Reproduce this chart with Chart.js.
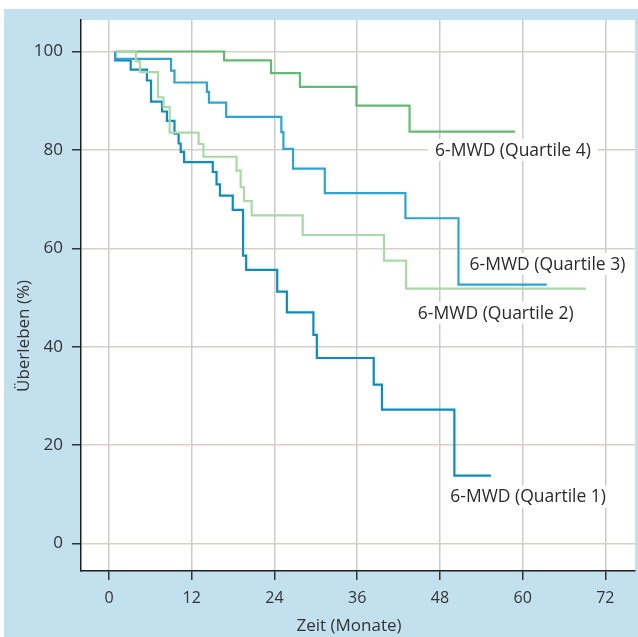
<!DOCTYPE html>
<html>
<head>
<meta charset="utf-8">
<script src="https://cdn.jsdelivr.net/npm/chart.js@4.4.1/dist/chart.umd.min.js"></script>
<style>
  html, body { margin: 0; padding: 0; background: #ffffff; }
  #wrap { width: 638px; height: 637px; position: relative; }
</style>
</head>
<body>
<div id="wrap"><canvas id="c" width="638" height="637"></canvas></div>
<script>
// ---- data ----
const xTicks = [0, 12, 24, 36, 48, 60, 72];
const yTicks = [0, 20, 40, 60, 80, 100];

const seriesNames = ["6-MWD (Quartile 1)", "6-MWD (Quartile 2)", "6-MWD (Quartile 3)", "6-MWD (Quartile 4)"];

const q1Months = [0.9, 0.9, 3.15, 5.5, 6.1, 7.7, 8.4, 9.5, 10.1, 10.4, 10.9, 15.05, 15.6, 16.1, 17.95, 19.45, 19.9, 24.4, 25.8, 29.65, 30.15, 38.4, 39.6, 50.1, 55.4];
const q1Surv   = [100, 98.2, 96.3, 94.1, 89.8, 87.8, 85.9, 83.3, 81.3, 79.6, 77.5, 75.5, 73.0, 70.7, 67.8, 58.5, 55.6, 51.2, 46.95, 42.4, 37.7, 32.3, 27.2, 13.8, 13.8];

const q2Months = [0.9, 3.9, 4.5, 7.1, 7.9, 8.8, 13.0, 13.7, 18.5, 19.1, 19.6, 20.7, 28.1, 39.9, 43.1, 69.2];
const q2Surv   = [100, 98.0, 95.8, 90.7, 88.7, 83.5, 81.2, 78.6, 75.8, 72.4, 69.6, 66.7, 62.7, 57.5, 51.8, 51.8];

const q3Months = [0.9, 0.9, 9.0, 9.5, 14.2, 14.5, 17.0, 25.0, 25.3, 26.7, 31.3, 43.0, 50.7, 63.5];
const q3Surv   = [100, 98.5, 96.1, 93.7, 91.8, 89.6, 86.7, 83.6, 80.2, 76.2, 71.2, 66.1, 52.6, 52.6];

const q4Months = [1.0, 16.7, 23.5, 27.7, 35.9, 43.6, 58.9];
const q4Surv   = [100, 98.2, 95.6, 92.8, 89.0, 83.7, 83.7];

// label anchor points in data units (month, percent)
const labelMonths = [60.8, 56.1, 63.6, 58.6];
const labelPercents = [9.55, 46.9, 56.8, 80.0];

// ---- styles ----
const colors = ["#0b8dbf", "#a8d9a6", "#2ea4d1", "#63bb72"];
const FONT = "'Open Sans', 'Noto Sans', sans-serif";

function pts(xs, ys) { return xs.map((x, i) => ({ x: x, y: ys[i] })); }

const allData = [pts(q1Months, q1Surv), pts(q2Months, q2Surv), pts(q3Months, q3Surv), pts(q4Months, q4Surv)];
// draw order: Q2 light green first so darker lines sit above
const drawOrder = [1, 3, 2, 0];

const datasets = drawOrder.map(i => ({
  label: seriesNames[i],
  data: allData[i],
  borderColor: colors[i],
  borderWidth: 2.2,
  stepped: true,
  pointRadius: 0,
  fill: false,
  tension: 0
}));

const bgPlugin = {
  id: 'bg',
  beforeDraw(chart) {
    const ctx = chart.ctx, a = chart.chartArea;
    ctx.save();
    ctx.fillStyle = '#ffffff';
    ctx.fillRect(0, 0, chart.width, chart.height);
    ctx.fillStyle = '#c3e0ef';
    ctx.fillRect(4, 9, chart.width - 4, chart.height - 9);
    ctx.fillStyle = '#ffffff';
    ctx.fillRect(a.left, a.top, a.right - a.left, a.bottom - a.top);
    ctx.restore();
  }
};

const textPlugin = {
  id: 'texts',
  beforeDatasetsDraw(chart) {
    // white boxed series labels (drawn under the lines)
    const ctx = chart.ctx, xs = chart.scales.x, ys = chart.scales.y;
    ctx.save();
    ctx.font = "17.5px " + FONT;
    ctx.textAlign = 'center';
    ctx.textBaseline = 'middle';
    for (let i = 0; i < seriesNames.length; i++) {
      const cx = xs.getPixelForValue(labelMonths[i]);
      const cy = ys.getPixelForValue(labelPercents[i]);
      const w = ctx.measureText(seriesNames[i]).width;
      ctx.fillStyle = '#ffffff';
      ctx.fillRect(cx - w / 2 - 7, cy - 11, w + 14, 22);
      ctx.fillStyle = '#2a2a2a';
      ctx.fillText(seriesNames[i], cx, cy + 1);
    }
    ctx.restore();
  },
  afterDraw(chart) {
    const ctx = chart.ctx;
    ctx.save();
    ctx.fillStyle = '#333333';
    ctx.font = "17px " + FONT;
    ctx.textAlign = 'center';
    ctx.textBaseline = 'middle';
    ctx.fillText('Zeit (Monate)', 349, 626);
    ctx.translate(24, 336);
    ctx.rotate(-Math.PI / 2);
    ctx.fillText('Überleben (%)', 0, 0);
    ctx.restore();
  }
};

new Chart(document.getElementById('c'), {
  type: 'line',
  data: { datasets: datasets },
  options: {
    responsive: false,
    animation: false,
    layout: { padding: { left: 0, top: 20, right: 3, bottom: 0 } },
    plugins: { legend: { display: false }, tooltip: { enabled: false } },
    scales: {
      x: {
        type: 'linear',
        min: -4.06,
        max: 76.3,
        afterBuildTicks(s) { s.ticks = xTicks.map(v => ({ value: v })); },
        afterFit(s) { s.height = 66; },
        border: { display: true, color: '#1e1e1e', width: 1.5 },
        grid: { color: '#cbcbcb', lineWidth: 1.5, tickColor: '#333333', tickLength: 9, drawTicks: true },
        ticks: { color: '#333333', font: { family: FONT, size: 16 }, padding: 9, maxRotation: 0, autoSkip: false }
      },
      y: {
        type: 'linear',
        min: -5.6,
        max: 106.4,
        afterBuildTicks(s) { s.ticks = yTicks.map(v => ({ value: v })); },
        afterFit(s) { s.width = 81; },
        border: { display: true, color: '#1e1e1e', width: 1.5 },
        grid: { color: '#d8d0c8', lineWidth: 1.5, tickColor: '#333333', tickLength: 9, drawTicks: true },
        ticks: { color: '#333333', font: { family: FONT, size: 17 }, padding: 9, autoSkip: false }
      }
    }
  },
  plugins: [bgPlugin, textPlugin]
});
</script>
</body>
</html>
